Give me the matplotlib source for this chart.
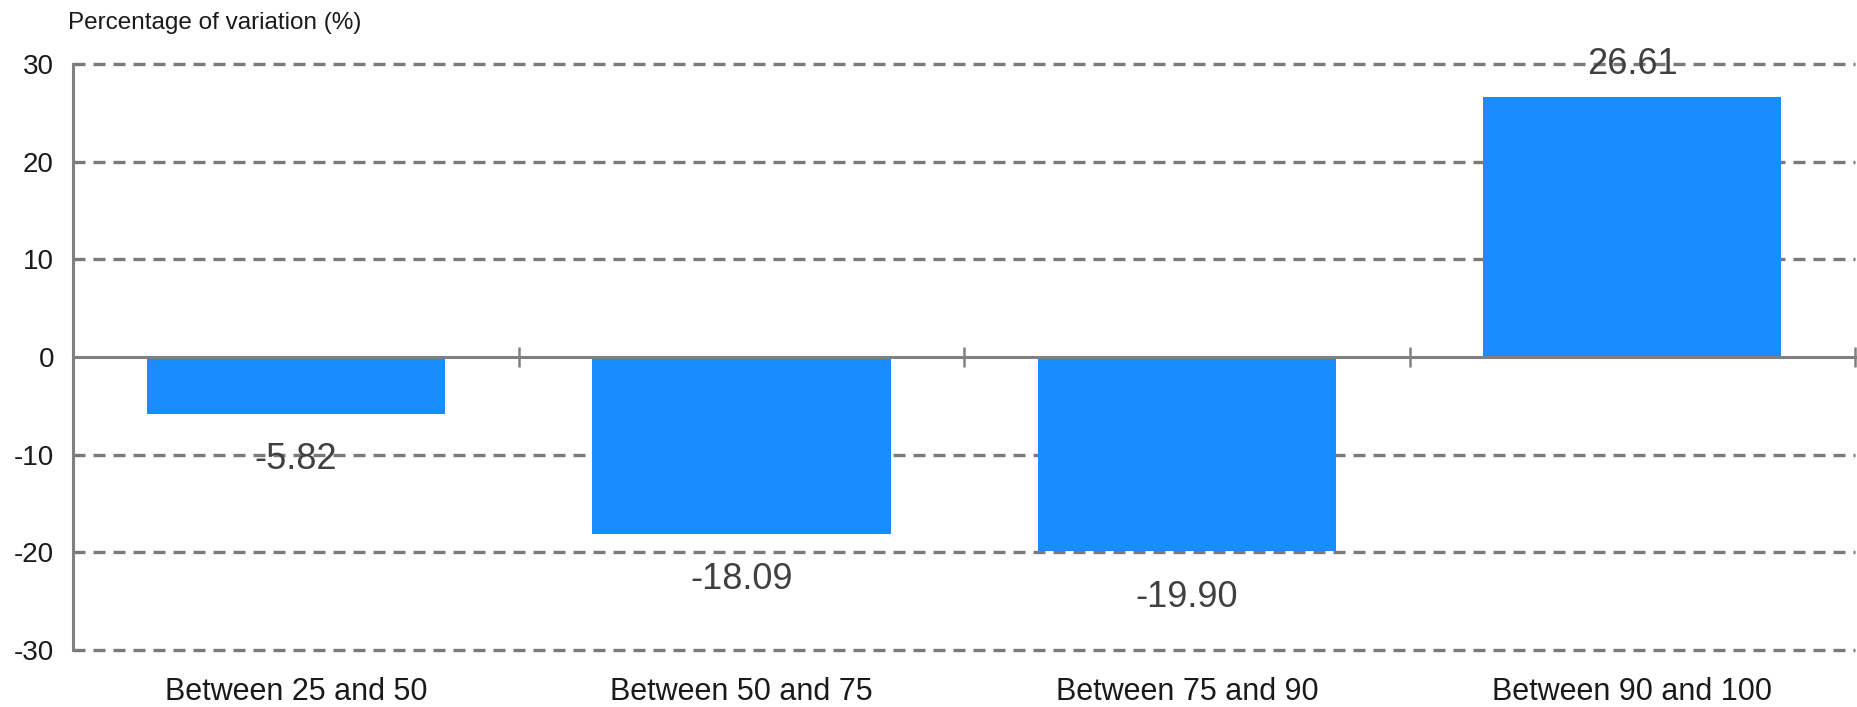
import matplotlib
matplotlib.use("Agg")
import matplotlib.pyplot as plt

# percentile bands and variation (%)
CATEGORIES = ["Between 25 and 50", "Between 50 and 75",
              "Between 75 and 90", "Between 90 and 100"]
VARIATION = [-5.82, -18.09, -19.90, 26.61]
Y_TICKS = [-30, -20, -10, 0, 10, 20, 30]

plt.rcParams["font.family"] = ["Liberation Sans", "DejaVu Sans"]

fig = plt.figure(figsize=(18.57, 7.07), dpi=100)
ax = fig.add_axes([0.0395, 0.0806, 0.9594, 0.829])

x = range(len(CATEGORIES))
ax.bar(x, VARIATION, width=0.67, color="#1a8cff", zorder=3)

for i, v in enumerate(VARIATION):
    off = 11 if v > 0 else -20.5
    ax.annotate(f"{v:.2f}", (i, v), xytext=(0, off), textcoords="offset points",
                ha="center", va="bottom" if v > 0 else "top",
                fontsize=26, color="#404040", zorder=4)

ax.set_xlim(-0.5, 3.5)
ax.set_ylim(-30, 30)
ax.set_yticks(Y_TICKS)
ax.set_yticklabels([str(t) for t in Y_TICKS], fontsize=20, color="#1a1a1a")
ax.tick_params(axis="y", length=0, pad=14)

# dashed horizontal grid (zero line is the spine); edge lines not clipped
for t in Y_TICKS:
    if t != 0:
        ax.axhline(t, color="#7a7a7a", linewidth=2.4,
                   linestyle=(0, (3.6, 2.4)), zorder=1, clip_on=False)

for side in ["top", "right"]:
    ax.spines[side].set_visible(False)
ax.spines["bottom"].set_position(("data", 0))
ax.spines["bottom"].set_color("#808080")
ax.spines["bottom"].set_linewidth(2.2)
ax.spines["bottom"].set_zorder(5)
ax.spines["left"].set_color("#808080")
ax.spines["left"].set_linewidth(2.2)

ax.set_xticks([0.5, 1.5, 2.5, 3.5])
ax.set_xticklabels([])
ax.tick_params(axis="x", direction="inout", length=14, width=1.8, color="#808080")

for i, c in enumerate(CATEGORIES):
    ax.text(i, -0.071, c, transform=ax.get_xaxis_transform(),
            ha="center", va="center", fontsize=22, color="#1a1a1a")

fig.text(67.5 / 1857, 1 - 23 / 707, "Percentage of variation (%)",
         ha="left", va="center", fontsize=17.5, color="#1a1a1a")

fig.savefig("out.png", dpi=100)
